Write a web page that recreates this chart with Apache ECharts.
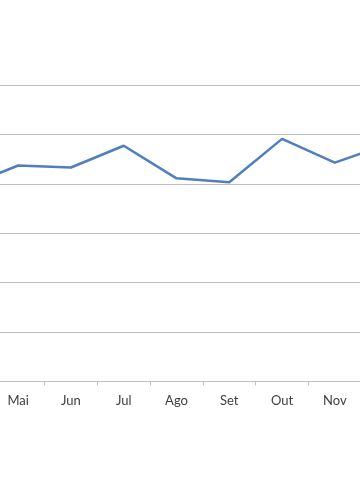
<!DOCTYPE html>
<html>
<head>
<meta charset="utf-8">
<script src="https://cdn.jsdelivr.net/npm/echarts@6/dist/echarts.min.js"></script>
<style>html,body{margin:0;padding:0;background:#fff;overflow:hidden;width:360px;height:504px;position:relative}#c{position:absolute;left:-61px;top:0;width:475px;height:504px}</style>
</head>
<body>
<div id="c"></div>
<script>
var categories = ['Abr', 'Mai', 'Jun', 'Jul', 'Ago', 'Set', 'Out', 'Nov', 'Dez'];
var values = [39.4, 43.7, 43.3, 47.7, 41.1, 40.3, 49.1, 44.3, 48.0];
var yMin = 0, yMax = 60, yStep = 10;

var chart = echarts.init(document.getElementById('c'), null, {renderer: 'canvas'});
chart.setOption({
  animation: false,
  backgroundColor: '#ffffff',
  grid: {left: 0, right: 0, top: 85, height: 296.4, containLabel: false},
  xAxis: {
    type: 'category',
    data: categories,
    boundaryGap: true,
    axisLine: {lineStyle: {color: '#bfbfbf', width: 1}},
    axisTick: {show: true, length: 4, lineStyle: {color: '#bfbfbf'}},
    axisLabel: {color: '#404040', fontFamily: 'Lato', fontSize: 13, margin: 13, interval: 0},
    splitLine: {show: false}
  },
  yAxis: {
    type: 'value',
    min: yMin, max: yMax, interval: yStep,
    axisLine: {show: false},
    axisTick: {show: false},
    axisLabel: {show: false},
    splitLine: {lineStyle: {color: '#bfbfbf', width: 1}}
  },
  series: [{
    type: 'line',
    data: values,
    showSymbol: false,
    symbol: 'none',
    lineStyle: {color: '#4f7fbd', width: 2.5}
  }]
});
</script>
</body>
</html>
